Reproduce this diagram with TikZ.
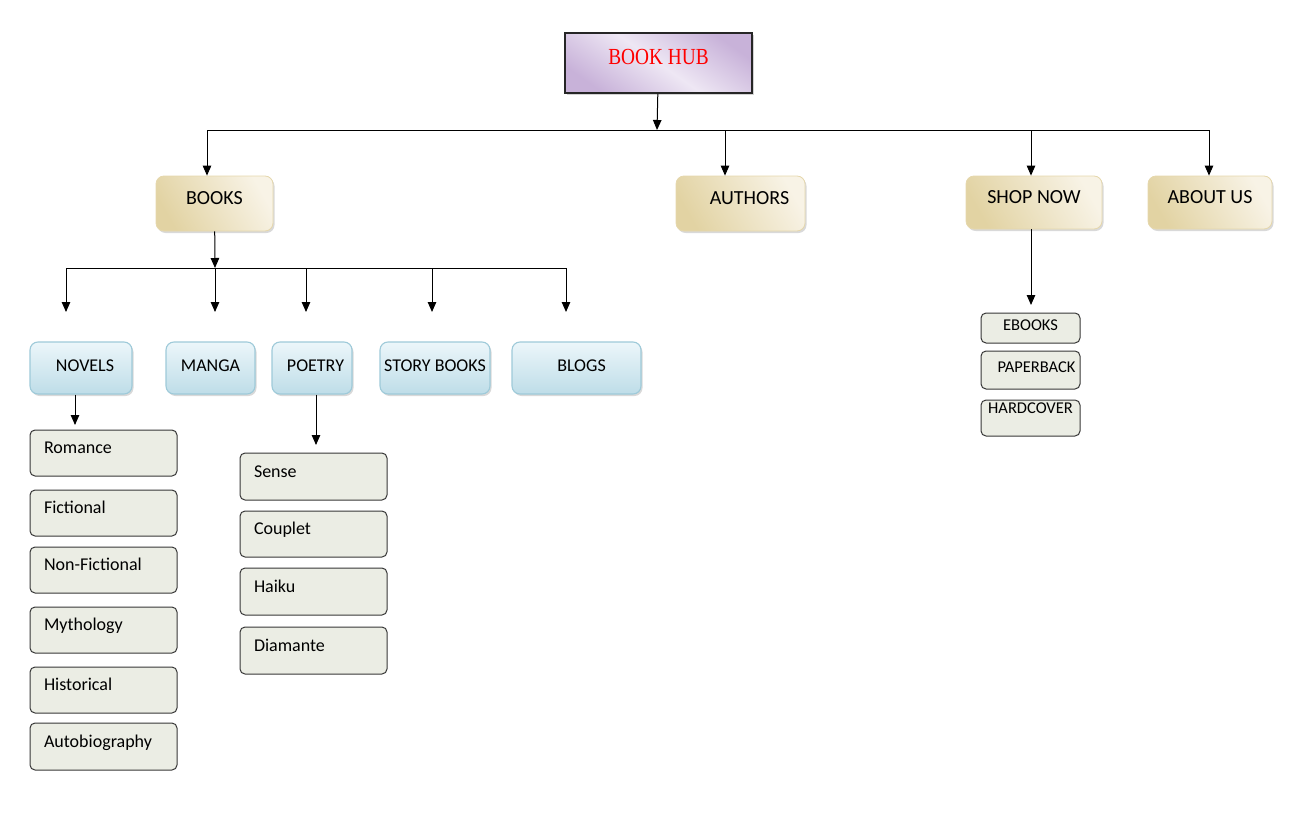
\documentclass[tikz,border=0pt]{standalone}
\usepackage{fontspec}
\setmainfont{Carlito}
\newfontfamily\hubfont[FakeStretch=0.84]{Liberation Serif}
\usetikzlibrary{arrows.meta,shadows}
\definecolor{tandark}{RGB}{226,211,163}
\definecolor{tanlight}{RGB}{248,243,230}
\definecolor{bluetop}{RGB}{236,246,250}
\definecolor{bluebottom}{RGB}{190,221,232}
\definecolor{blueline}{RGB}{158,202,217}
\definecolor{purplelight}{RGB}{238,231,244}
\definecolor{purpledark}{RGB}{200,178,217}
\definecolor{greyfill}{RGB}{235,237,228}
\definecolor{greyline}{RGB}{55,55,55}

\begin{document}
\begin{tikzpicture}
[every node/.style={inner sep=0pt},
 wire/.style={line width=1pt, color=black},
 link/.style={line width=1pt, -{Triangle[width=8.5pt,length=10pt]}, color=black},
 hubbox/.style={rectangle, minimum width=187pt, minimum height=60pt, draw=black!85, line width=1.6pt, left color=purpledark, right color=purpledark, middle color=purplelight, shading angle=-35, drop shadow={shadow xshift=2pt, shadow yshift=-2.5pt, opacity=0.35}, font=\hubfont\fontsize{23}{26}\selectfont, text=red, text height=15.2pt, text depth=12pt},
 menubox/.style={rectangle, rounded corners=8pt, minimum height=55pt, draw=tandark!90, line width=0.8pt, left color=tandark, right color=tanlight, shading angle=120, drop shadow={shadow xshift=1.5pt, shadow yshift=-2pt, opacity=0.3}, font=\fontsize{20}{24}\selectfont, text height=12.9pt, text depth=10pt},
 genrebox/.style={rectangle, rounded corners=8pt, minimum height=52pt, draw=blueline, line width=1.1pt, top color=bluetop, bottom color=bluebottom, drop shadow={shadow xshift=1.5pt, shadow yshift=-2pt, opacity=0.3}, font=\fontsize{18}{22}\selectfont, text height=11.6pt, text depth=4pt},
 itembox/.style={rectangle, rounded corners=5pt, text width=119pt, inner xsep=14pt, align=left, minimum height=46pt, draw=greyline, line width=1pt, fill=greyfill, font=\fontsize{18}{22}\selectfont, text height=11.6pt, text depth=10pt},
 formatbox/.style={rectangle, rounded corners=5pt, minimum width=99pt, draw=greyline, line width=1pt, fill=greyfill, font=\fontsize{16.5}{20}\selectfont, text height=10.6pt, text depth=6pt}]
\useasboundingbox (0pt,0pt) rectangle (1313pt,-832pt);
\node (hub) [hubbox] at (658.5pt, -63pt) {BOOK HUB};
\node (books) [menubox, minimum width=117pt] at (214.5pt, -203.5pt) {BOOKS};
\node (authors) [menubox, minimum width=129pt] at (740.5pt, -203.5pt) {\hspace*{18pt}AUTHORS};
\node (shopnow) [menubox, minimum width=136pt, minimum height=53pt] at (1034pt, -202.5pt) {SHOP NOW};
\node (aboutus) [menubox, minimum width=124pt, minimum height=53pt] at (1210pt, -202.5pt) {ABOUT US};
\node (novels) [genrebox, minimum width=102pt] at (81pt, -368pt) {\hspace*{8pt}NOVELS};
\node (manga) [genrebox, minimum width=89pt] at (210.5pt, -368pt) {MANGA};
\node (poetry) [genrebox, minimum width=80pt] at (312pt, -368pt) {\hspace*{7pt}POETRY};
\node (storybooks) [genrebox, minimum width=110pt] at (435pt, -368pt) {STORY BOOKS};
\node (blogs) [genrebox, minimum width=129pt] at (576.5pt, -368pt) {\hspace*{10pt}BLOGS};
\node (romance) [itembox] at (103.5pt, -453pt) {Romance};
\node (fictional) [itembox] at (103.5pt, -513pt) {Fictional};
\node (nonfictional) [itembox] at (103.5pt, -570pt) {Non-Fictional};
\node (mythology) [itembox] at (103.5pt, -630pt) {Mythology};
\node (historical) [itembox] at (103.5pt, -690pt) {Historical};
\node (autobiography) [itembox, minimum height=47pt] at (103.5pt, -746.5pt) {Autobiography};
\node (sense) [itembox, minimum height=47pt] at (313.5pt, -476.5pt) {Sense};
\node (couplet) [itembox] at (313.5pt, -534pt) {Couplet};
\node (haiku) [itembox, minimum height=47pt] at (313.5pt, -591.5pt) {Haiku};
\node (diamante) [itembox, minimum height=47pt] at (313.5pt, -650.5pt) {Diamante};
\node (ebooks) [formatbox, minimum height=30pt] at (1030.5pt, -328pt) {EBOOKS};
\node (paperback) [formatbox, minimum height=38pt] at (1030.5pt, -370pt) {\hspace*{12pt}PAPERBACK};
\node (hardcover) [formatbox, minimum height=36pt, text depth=20pt] at (1030.5pt, -418pt) {HARDCOVER};
% top level bus
\coordinate (hubbus) at (657pt, -130pt);
\coordinate (busbooks) at (207pt, -130pt);
\coordinate (busauthors) at (725pt, -130pt);
\coordinate (busshop) at (1031pt, -130pt);
\coordinate (busabout) at (1209pt, -130pt);
\draw [link] (hub) -- (hubbus);
\draw [wire] (busbooks) -- (busabout);
\draw [link] (busbooks) -- (busbooks |- books.north);
\draw [link] (busauthors) -- (busauthors |- authors.north);
\draw [link] (busshop) -- (busshop |- shopnow.north);
\draw [link] (busabout) -- (busabout |- aboutus.north);
% books bus
\coordinate (bookbus) at (215pt, -268pt);
\coordinate (busnovels) at (66pt, -268pt);
\coordinate (buspoetry) at (306pt, -268pt);
\coordinate (busstory) at (432pt, -268pt);
\coordinate (busblogs) at (566pt, -268pt);
\draw [link] (books) -- (bookbus);
\draw [wire] (busnovels) -- (busblogs);
\draw [link] (busnovels) -- ++(0pt, -44pt);
\draw [link] (bookbus) -- ++(0pt, -44pt);
\draw [link] (buspoetry) -- ++(0pt, -44pt);
\draw [link] (busstory) -- ++(0pt, -44pt);
\draw [link] (busblogs) -- ++(0pt, -44pt);
% sub lists
\coordinate (novelsdrop) at (75pt, -425pt);
\coordinate (poetrydrop) at (316pt, -445pt);
\coordinate (shopdrop) at (1031pt, -305pt);
\draw [link] (novelsdrop |- novels.south) -- (novelsdrop);
\draw [link] (poetrydrop |- poetry.south) -- (poetrydrop);
\draw [link] (shopdrop |- shopnow.south) -- (shopdrop);
\end{tikzpicture}
\end{document}
